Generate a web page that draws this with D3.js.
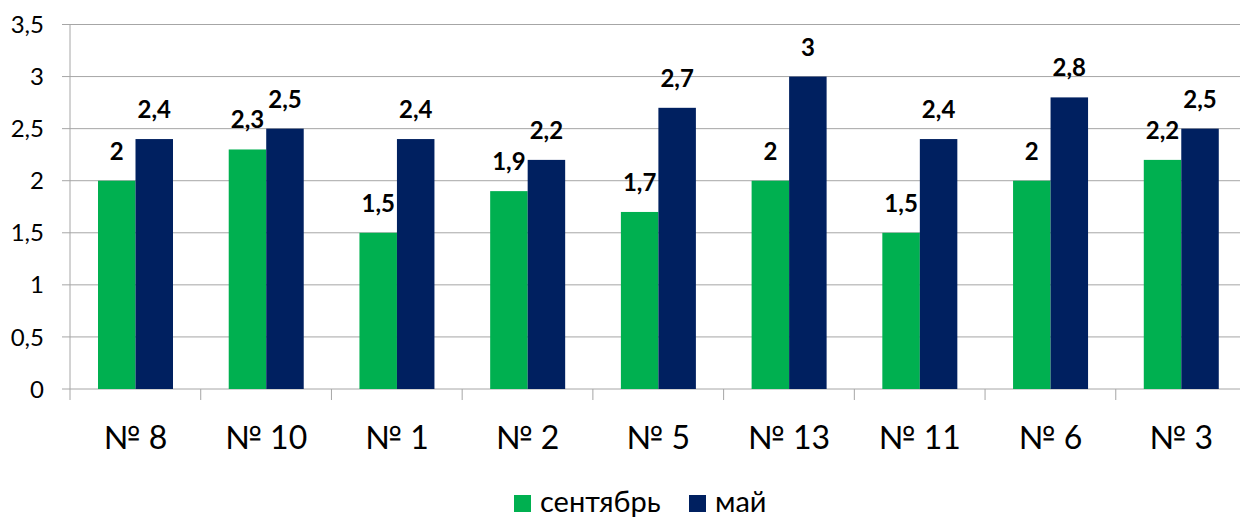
<!DOCTYPE html>
<html>
<head>
<meta charset="utf-8">
<script src="https://cdn.jsdelivr.net/npm/d3@7"></script>
<style>
  body { margin: 0; background: #fff; }
  svg { display: block; font-family: Lato, "Open Sans", sans-serif; }
</style>
</head>
<body>
<svg width="1240" height="517"></svg>
<script>
var categories = ["№ 8", "№ 10", "№ 1", "№ 2", "№ 5", "№ 13", "№ 11", "№ 6", "№ 3"];
var seriesNames = ["сентябрь", "май"];
var september = [2, 2.3, 1.5, 1.9, 1.7, 2, 1.5, 2, 2.2];
var may = [2.4, 2.5, 2.4, 2.2, 2.7, 3, 2.4, 2.8, 2.5];
var yTicks = [0, 0.5, 1, 1.5, 2, 2.5, 3, 3.5];
var colors = ["#00b050", "#002060"];

var svg = d3.select("svg");
var plotLeft = 70, plotRight = 1246.5, plotTop = 24.5, plotBottom = 389;
var gridColor = "#a6a6a6";
var fmt = function(v) { return String(v).replace(".", ","); };

var x0 = d3.scaleBand().domain(categories).range([plotLeft, plotRight]).padding(0);
var x1 = d3.scaleBand().domain(seriesNames).range([28, 103]).padding(0);
var y = d3.scaleLinear().domain([0, 3.5]).range([plotBottom, plotTop]);

// gridlines
var grid = svg.append("g");
grid.selectAll("line").data(yTicks).enter().append("line")
  .attr("x1", plotLeft - 8).attr("x2", plotRight)
  .attr("y1", function(d) { return y(d); }).attr("y2", function(d) { return y(d); })
  .attr("stroke", gridColor);

// y labels
svg.append("g").selectAll("text").data(yTicks).enter().append("text")
  .attr("x", plotLeft - 26)
  .attr("y", function(d) { return y(d); })
  .attr("dy", "0.36em")
  .attr("text-anchor", "end")
  .style("font-size", "24px")
  .text(fmt);

// vertical axis line
svg.append("line").attr("x1", plotLeft).attr("x2", plotLeft).attr("y1", plotTop).attr("y2", plotBottom + 11)
  .attr("stroke", gridColor);

// x ticks at category boundaries
svg.append("g").selectAll("line").data(categories.slice(1)).enter().append("line")
  .attr("x1", function(d) { return x0(d); }).attr("x2", function(d) { return x0(d); })
  .attr("y1", plotBottom).attr("y2", plotBottom + 11).attr("stroke", gridColor);

// category labels
svg.append("g").selectAll("text").data(categories).enter().append("text")
  .attr("x", function(d) { return x0(d) + x0.bandwidth() / 2; })
  .attr("y", 449)
  .attr("text-anchor", "middle")
  .style("font-size", "32px")
  .text(function(d) { return d; });

var rows = categories.map(function(c, i) { return { cat: c, values: [september[i], may[i]] }; });

var groups = svg.append("g").selectAll("g").data(rows).enter().append("g")
  .attr("transform", function(d) { return "translate(" + x0(d.cat) + ",0)"; });

groups.selectAll("rect").data(function(d) {
    return d.values.map(function(v, i) { return { s: seriesNames[i], v: v, i: i }; });
  }).enter().append("rect")
  .attr("x", function(d) { return x1(d.s); })
  .attr("width", x1.bandwidth())
  .attr("y", function(d) { return y(d.v); })
  .attr("height", function(d) { return plotBottom - y(d.v); })
  .attr("fill", function(d) { return colors[d.i]; });

groups.selectAll("text").data(function(d) {
    return d.values.map(function(v, i) { return { s: seriesNames[i], v: v, i: i }; });
  }).enter().append("text")
  .attr("x", function(d) { return x1(d.s) + x1.bandwidth() / 2; })
  .attr("y", function(d) { return y(d.v) - 21; })
  .attr("text-anchor", "middle")
  .style("font-size", "24px").style("font-weight", "bold")
  .text(function(d) { return fmt(d.v); });

// legend
var legend = svg.append("g");
var legX = [514, 689];
seriesNames.forEach(function(n, i) {
  legend.append("rect").attr("x", legX[i]).attr("y", 495).attr("width", 17).attr("height", 17).attr("fill", colors[i]);
  legend.append("text").attr("x", legX[i] + 26).attr("y", 512).style("font-size", "29px").text(n);
});
</script>
</body>
</html>
